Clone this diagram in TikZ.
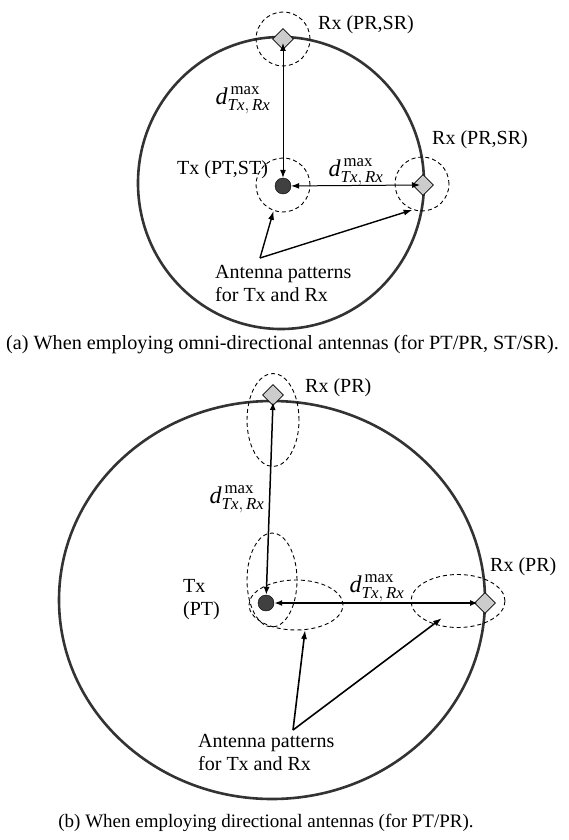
\documentclass[tikz,border=0pt]{standalone}
\usepackage{fontspec}
\setmainfont{Liberation Serif}
\usepackage{amsmath}
\usetikzlibrary{arrows.meta,positioning,shapes.geometric}

\begin{document}
\begin{tikzpicture}[x=1pt, y=-1pt, font=\fontsize{20}{23}\selectfont,
    rim/.style={draw=black!80, line width=2.6pt},
    beam/.style={draw, dash pattern=on 4pt off 3pt, line width=0.9pt, inner sep=0pt},
    omni/.style={beam, circle, minimum size=54pt},
    lobe/.style={beam, ellipse},
    txdot/.style={circle, draw, fill=black!75, minimum size=16pt, inner sep=0pt},
    rxdiam/.style={diamond, draw, line width=0.8pt, fill=black!20, minimum size=21pt, inner sep=0pt},
    link/.style={{Latex[length=8pt,width=6pt]}-{Latex[length=8pt,width=6pt]}, line width=1pt},
    pointer/.style={-{Latex[length=9pt,width=6pt]}, line width=1.4pt},
    txt/.style={anchor=west, inner sep=0pt, align=left},
    dist/.style={font=\fontsize{24}{26}\selectfont, inner sep=0pt},
    figcap/.style={inner sep=0pt, font=\fontsize{19}{22}\selectfont}]
  \useasboundingbox (0,0) rectangle (568,840);
  \newcommand{\dmax}{$\textit{d}^{\,\text{max}}_{\textit{Tx},\,\textit{Rx}}$}

  % (a) omni-directional
  \draw[rim] (281,183) ellipse (143 and 146);
  \node[omni] (beamrxta) at (283,39) {};
  \node[omni] (beamtxa) at (283,185) {};
  \node[omni] (beamrxra) at (422,184) {};
  \node[txdot] (txa) at (283,186) {};
  \node[rxdiam] (rxta) at (283,39) {};
  \node[rxdiam] (rxra) at (423,185) {};
  \draw[link] (txa) -- ([yshift=-4pt]rxta.center);
  \draw[link] (txa) -- ([xshift=-3pt]rxra.center);

  \node[txt] (lrxta) at (318,25) {Rx (PR,SR)};
  \node[txt] (lrxra) at (432,140) {Rx (PR,SR)};
  \node[txt] (ltxa) at (177,170) {Tx (PT,ST)};
  \node[dist] (dva) at (243,100) {\dmax};
  \node[dist] (dha) at (356,172) {\dmax};
  \node[txt] (anta) at (215,283) {Antenna patterns\\for Tx and Rx};
  \coordinate (forka) at (260,258);
  \draw[pointer] (forka) -- (beamtxa.250);
  \draw[pointer] (forka) -- (beamrxra.250);
  \node[figcap, anchor=west, font=\fontsize{20.2}{23}\selectfont] (capa) at (6,345) {(a) When employing omni-directional antennas (for PT/PR, ST/SR).};

  % (b) directional
  \draw[rim] (272,600) ellipse (213 and 199);
  \node[lobe, minimum width=52pt, minimum height=93pt] (beamrxtb) at (273,420) {};
  \node[lobe, minimum width=50pt, minimum height=94pt] (beamtxv) at (272,580) {};
  \node[lobe, minimum width=94pt, minimum height=50pt] (beamtxh) at (296,605) {};
  \node[lobe, minimum width=94pt, minimum height=53pt] (beamrxrb) at (458,601) {};
  \node[txdot] (txb) at (266,603) {};
  \node[rxdiam] (rxtb) at (273,395) {};
  \node[rxdiam] (rxrb) at (485,603) {};
  \draw[link, line width=1.5pt] (txb) -- ([yshift=-7pt]rxtb.center);
  \draw[link, line width=2pt] (txb) -- ([xshift=-7pt]rxrb.center);

  \node[txt] (lrxtb) at (305,388) {Rx (PR)};
  \node[txt] (lrxrb) at (490,567) {Rx (PR)};
  \node[txt] (ltxb) at (183,600) {Tx\\(PT)};
  \node[dist] (dvb) at (237,499) {\dmax};
  \node[dist] (dhb) at (377,588) {\dmax};
  \node[txt] (antb) at (198,752) {Antenna patterns\\for Tx and Rx};
  \coordinate (forkb) at (293,730);
  \coordinate (tipb) at (442,618);
  \draw[pointer, line width=1.6pt] (forkb) -- (beamtxh.290);
  \draw[pointer, line width=1.6pt] (forkb) -- (tipb);
  \node[figcap] (capb) at (266,823) {(b) When employing directional antennas (for PT/PR).};
\end{tikzpicture}
\end{document}
